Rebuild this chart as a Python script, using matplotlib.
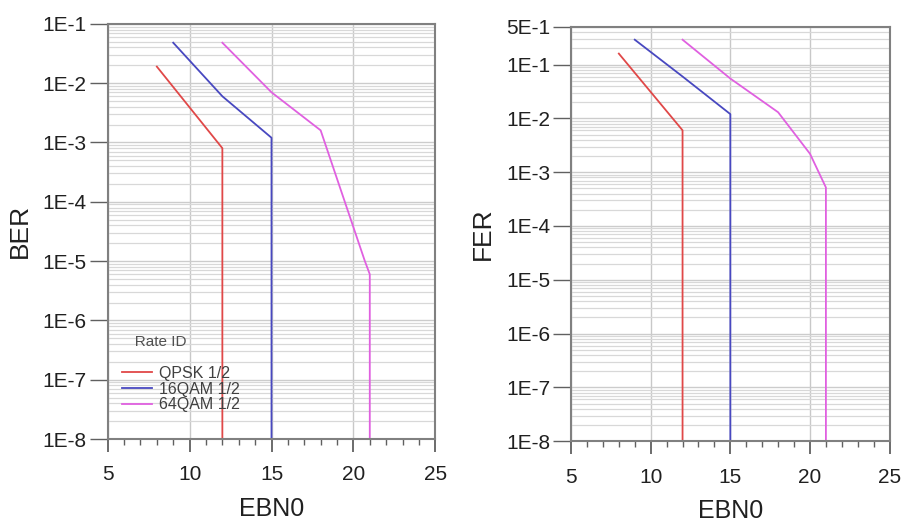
import matplotlib
matplotlib.use("Agg")
import matplotlib.pyplot as plt
from matplotlib.ticker import FixedLocator, LogLocator, NullFormatter

plt.rcParams['font.family'] = ['Liberation Sans', 'DejaVu Sans']

# series names and colours
rate_ids = ['QPSK 1/2', '16QAM 1/2', '64QAM 1/2']
colors = ['#e04848', '#4848c0', '#e060e0']

# BER curves (EBN0, BER)
ber_x = [
    [8, 12, 12],
    [9, 12, 15, 15],
    [12, 15, 18, 20.7, 21, 21],
]
ber_y = [
    [1.9e-2, 8e-4, 1e-8],
    [4.8e-2, 6e-3, 1.2e-3, 1e-8],
    [4.8e-2, 7e-3, 1.6e-3, 1e-5, 6e-6, 1e-8],
]

# FER curves
fer_x = [
    [8, 12, 12],
    [9, 12, 15, 15],
    [12, 15, 18, 20, 21, 21],
]
fer_y = [
    [1.6e-1, 6e-3, 1e-8],
    [2.9e-1, 6e-2, 1.2e-2, 1e-8],
    [2.9e-1, 5.5e-2, 1.3e-2, 2.2e-3, 5.2e-4, 1e-8],
]

xticks = [5, 10, 15, 20, 25]
ber_ticks = [1e-1, 1e-2, 1e-3, 1e-4, 1e-5, 1e-6, 1e-7, 1e-8]
ber_labels = ['1E-1', '1E-2', '1E-3', '1E-4', '1E-5', '1E-6', '1E-7', '1E-8']
fer_ticks = [5e-1, 1e-1, 1e-2, 1e-3, 1e-4, 1e-5, 1e-6, 1e-7, 1e-8]
fer_labels = ['5E-1', '1E-1', '1E-2', '1E-3', '1E-4', '1E-5', '1E-6', '1E-7', '1E-8']


def style_axes(ax, yticks, ylabels, ytop, ylabel):
    ax.set_yscale('log')
    ax.set_xlim(5, 25)
    ax.set_ylim(1e-8, ytop)
    ax.yaxis.set_major_locator(FixedLocator(yticks))
    ax.set_yticklabels(ylabels)
    ax.yaxis.set_minor_locator(LogLocator(base=10, subs=range(1, 10), numticks=30))
    ax.yaxis.set_minor_formatter(NullFormatter())
    ax.set_xticks(xticks)
    ax.set_xticks(range(5, 26), minor=True)
    ax.tick_params(axis='y', which='major', length=13, width=1, color='#606060',
                   labelsize=15, pad=2, labelcolor='#202020')
    ax.tick_params(axis='y', which='minor', length=0)
    ax.tick_params(axis='x', which='major', length=9, width=1.3, color='#606060',
                   labelsize=15, pad=10, labelcolor='#202020')
    ax.tick_params(axis='x', which='minor', length=4, width=1, color='#606060')
    # grid: log lines horizontally, majors vertically
    ax.grid(True, axis='y', which='minor', color='#d8d8d8', linewidth=0.9)
    ax.grid(True, axis='y', which='major', color='#cccccc', linewidth=1.0)
    ax.grid(True, axis='x', which='major', color='#c8c8c8', linewidth=1.0)
    ax.set_axisbelow(True)
    for s in ax.spines.values():
        s.set_color('#808080')
        s.set_linewidth(1.5)
    ax.set_xlabel('EBN0', fontsize=18, labelpad=9, color='#202020')
    ax.set_ylabel(ylabel, fontsize=19, labelpad=8, color='#202020')


fig = plt.figure(figsize=(9.05, 5.29), dpi=100)
ax1 = fig.add_axes([0.119, 0.170, 0.362, 0.785])
ax2 = fig.add_axes([0.631, 0.166, 0.352, 0.783])

for i in range(3):
    ax1.plot(ber_x[i], ber_y[i], color=colors[i], linewidth=1.3, label=rate_ids[i])
    ax2.plot(fer_x[i], fer_y[i], color=colors[i], linewidth=1.3, label=rate_ids[i])

style_axes(ax1, ber_ticks, ber_labels, 1e-1, 'BER')
style_axes(ax2, fer_ticks, fer_labels, 5e-1, 'FER')

leg = ax1.legend(loc='upper left', bbox_to_anchor=(0.0, 0.285), frameon=False,
                 title='   Rate ID', fontsize=11.5, title_fontsize=11,
                 handlelength=1.9, handletextpad=0.4, labelspacing=0.05,
                 alignment='left')
leg._legend_box.sep = 12
for t in leg.get_texts():
    t.set_color('#404040')
leg.get_title().set_color('#505050')

fig.savefig('out.png', dpi=100)
